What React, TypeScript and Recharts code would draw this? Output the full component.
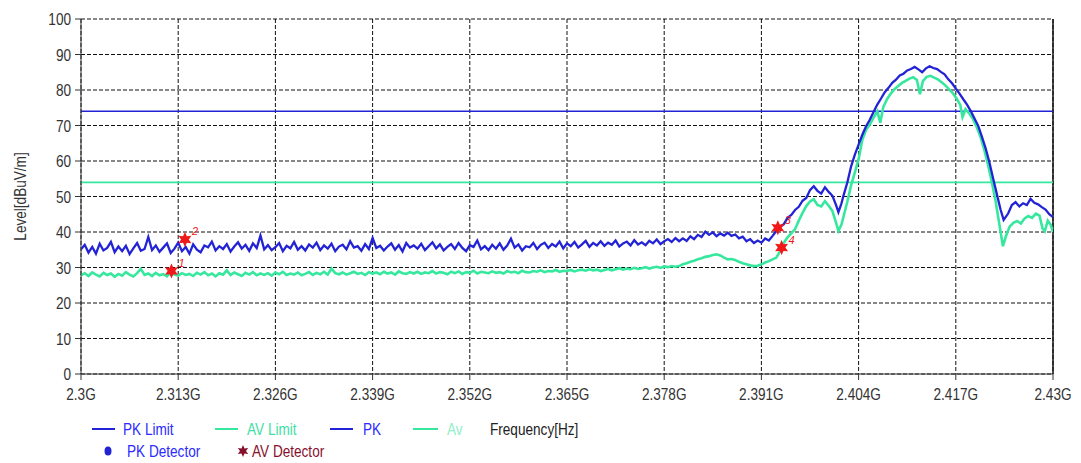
import React from 'react';
import {
  ComposedChart, Line, Scatter, XAxis, YAxis, CartesianGrid, ReferenceLine,
} from 'recharts';

// ---- Data ----
const X_TICKS = [2.3, 2.313, 2.326, 2.339, 2.352, 2.365, 2.378, 2.391, 2.404, 2.417, 2.43];
const Y_TICKS = [0, 10, 20, 30, 40, 50, 60, 70, 80, 90, 100];

const PK_LIMIT = 74;
const AV_LIMIT = 54;

// flat, noisy part sampled from 2.3000 GHz every 0.0005 GHz
const NOISE_START = 2.3;
const NOISE_STEP = 0.0005;

const PK_NOISE = [
  35.1, 36.4, 34.2, 35.8, 33.9, 36.7, 34.8, 35.5, 37.2, 34.3,
  35.9, 34.6, 36.1, 33.8, 35.4, 36.9, 34.7, 35.2, 38.6, 34.9,
  36.2, 34.4, 35.6, 36.8, 34.1, 35.3, 37.0, 34.6, 35.8, 33.9,
  36.5, 35.0, 34.3, 36.2, 35.7, 37.3, 34.8, 36.0, 35.2, 36.6,
  34.5, 35.9, 37.1, 35.3, 36.4, 34.7, 36.8, 35.5, 39.0, 35.1,
  36.3, 34.9, 35.7, 36.9, 34.6, 36.1, 35.4, 37.2, 35.0, 36.0,
  34.8, 36.5, 35.6, 37.0, 34.9, 36.2, 35.3, 36.7, 34.6, 35.9,
  36.4, 35.1, 37.4, 35.6, 36.0, 34.7, 36.6, 35.2, 38.3, 35.5,
  36.1, 34.8, 35.9, 36.8, 35.0, 36.3, 34.5, 36.9, 35.6, 36.2,
  35.3, 36.7, 34.9, 36.0, 37.1, 35.4, 36.5, 34.8, 35.8, 36.6,
  35.2, 36.9, 35.5, 34.6, 36.3, 35.8, 37.6, 35.1, 36.0, 34.9,
  36.4, 35.3, 36.8, 35.0, 36.2, 38.1, 35.6, 36.5, 34.8, 36.0,
  35.7, 36.9, 35.2, 36.4, 37.0, 35.5, 36.6, 35.9, 37.3, 35.4,
  36.8, 36.0, 37.2, 35.6, 36.5, 37.5, 35.8, 36.9, 36.2, 37.4,
  36.1, 37.0, 36.4, 37.6, 35.9, 36.8, 37.3, 36.2, 37.7, 36.5,
  37.1, 36.3, 37.5, 36.8, 37.9, 36.6, 37.4, 38.0, 37.2, 38.3,
];

const AV_NOISE = [
  27.8, 28.4, 27.6, 28.6, 28.0, 27.5, 28.5, 27.9, 28.3, 27.4,
  28.2, 27.7, 28.7, 28.0, 27.5, 28.4, 29.6, 27.9, 28.3, 27.6,
  28.5, 27.8, 28.1, 27.5, 28.6, 28.0, 27.7, 28.4, 27.9, 28.2,
  27.6, 28.5, 28.0, 28.7, 27.8, 28.3, 27.5, 28.4, 28.0, 29.2,
  27.9, 28.6, 28.1, 27.6, 28.5, 28.0, 28.7, 27.8, 28.3, 27.9,
  28.4, 27.7, 28.6, 28.1, 28.8, 27.9, 28.3, 28.0, 28.6, 27.8,
  28.2, 28.7, 27.9, 28.5, 28.1, 28.8, 28.0, 29.7, 28.4, 28.1,
  28.6, 28.0, 28.4, 28.8, 28.2, 28.5, 27.9, 28.7, 28.3, 28.6,
  28.1, 28.8, 28.3, 28.6, 28.0, 28.9, 28.4, 28.2, 28.7, 28.3,
  28.8, 28.2, 28.6, 28.4, 29.0, 28.3, 28.7, 28.5, 28.1, 28.8,
  28.4, 28.9, 28.2, 28.7, 28.5, 29.1, 28.3, 28.8, 28.6, 28.4,
  28.9, 28.5, 28.7, 28.3, 29.0, 28.6, 28.8, 28.4, 29.1, 28.7,
  28.6, 29.0, 28.8, 29.2, 28.7, 29.0, 28.9, 29.3, 28.8, 29.1,
  29.0, 29.3, 28.9, 29.2, 29.4, 29.1, 29.5, 29.2, 29.4, 29.0,
  29.3, 29.6, 29.2, 29.5, 29.8, 29.4, 29.7, 29.5, 29.9, 29.6,
  29.8, 30.1, 29.7, 30.0, 30.2, 29.9, 30.3, 30.1, 30.4, 30.2,
];

// [frequency GHz, level dBuV/m] for the rising / emission part
const PK_EMISSION: [number, number][] = [
  [2.38, 37.4], [2.3805, 38.2], [2.381, 37.5], [2.3815, 38.8], [2.382, 38.0],
  [2.3825, 39.2], [2.383, 38.6], [2.3835, 40.1], [2.384, 39.2], [2.3845, 39.9],
  [2.385, 38.8], [2.3855, 39.6], [2.386, 39.0], [2.3865, 39.8], [2.387, 38.9],
  [2.3875, 39.3], [2.388, 38.2], [2.3885, 38.7], [2.389, 37.4], [2.3895, 38.0],
  [2.39, 36.9], [2.3905, 37.6], [2.391, 37.0], [2.3915, 38.2], [2.392, 37.6],
  [2.3925, 38.9], [2.393, 40.3], [2.3935, 41.5], [2.394, 42.2], [2.3945, 44.0],
  [2.395, 44.8], [2.3955, 46.2], [2.396, 47.1], [2.3965, 48.8], [2.397, 49.6],
  [2.3975, 51.8], [2.398, 52.9], [2.3985, 51.6], [2.399, 50.8], [2.3995, 52.6],
  [2.4, 51.3], [2.4005, 50.2], [2.401, 47.5], [2.4013, 45.6], [2.4017, 48.0],
  [2.402, 50.4], [2.4025, 54.0], [2.403, 58.5], [2.4035, 61.8], [2.404, 64.6],
  [2.4045, 67.4], [2.405, 69.8], [2.4055, 71.6], [2.406, 73.8], [2.4065, 75.9],
  [2.407, 77.6], [2.4075, 79.4], [2.408, 80.6], [2.4085, 82.0], [2.409, 82.9],
  [2.4095, 84.1], [2.41, 84.6], [2.4105, 85.5], [2.411, 85.9], [2.4115, 86.5],
  [2.412, 85.8], [2.4125, 85.0], [2.413, 86.1], [2.4135, 86.7], [2.414, 86.2],
  [2.4145, 85.9], [2.415, 85.1], [2.4155, 84.4], [2.416, 83.0], [2.4165, 81.9],
  [2.417, 80.4], [2.4175, 79.0], [2.418, 77.4], [2.4185, 75.9], [2.419, 74.1],
  [2.4195, 72.0], [2.42, 69.9], [2.4205, 66.8], [2.421, 63.5], [2.4215, 59.6],
  [2.422, 55.0], [2.4225, 50.6], [2.423, 46.2], [2.4234, 43.4], [2.424, 45.2],
  [2.4245, 47.6], [2.425, 48.4], [2.4255, 47.2], [2.426, 48.1], [2.4265, 47.6],
  [2.427, 49.3], [2.4275, 48.2], [2.428, 47.8], [2.4285, 47.0], [2.429, 46.3],
  [2.4295, 45.0], [2.43, 44.2],
];

const AV_EMISSION: [number, number][] = [
  [2.38, 30.4], [2.3805, 30.9], [2.381, 31.2], [2.3815, 31.6], [2.382, 31.9],
  [2.3825, 32.3], [2.383, 32.6], [2.3835, 33.0], [2.384, 33.2], [2.3845, 33.5],
  [2.385, 33.7], [2.3855, 33.4], [2.386, 32.8], [2.3865, 32.3], [2.387, 32.4],
  [2.3875, 32.1], [2.388, 31.6], [2.3885, 31.2], [2.389, 30.9], [2.3895, 30.6],
  [2.39, 30.4], [2.3905, 30.5], [2.391, 30.9], [2.3915, 31.4], [2.392, 31.8],
  [2.3925, 32.3], [2.393, 32.8], [2.3935, 34.6], [2.394, 37.0], [2.3945, 38.5],
  [2.395, 39.6], [2.3955, 40.8], [2.396, 43.2], [2.3965, 45.4], [2.397, 47.3],
  [2.3975, 48.6], [2.398, 49.2], [2.3985, 47.6], [2.399, 47.2], [2.3995, 48.7],
  [2.4, 47.4], [2.4005, 45.9], [2.401, 42.5], [2.4013, 40.3], [2.4017, 42.0],
  [2.402, 44.5], [2.4025, 48.6], [2.403, 53.2], [2.4035, 56.8], [2.404, 60.5],
  [2.4045, 66.0], [2.405, 68.8], [2.4055, 70.3], [2.406, 72.2], [2.4065, 74.0],
  [2.4069, 70.8], [2.4073, 75.2], [2.4078, 77.4], [2.4083, 79.0], [2.4088, 80.2],
  [2.4093, 81.1], [2.4098, 82.0], [2.4103, 82.6], [2.4108, 83.2], [2.4113, 83.6],
  [2.4118, 82.8], [2.4122, 78.8], [2.4126, 82.5], [2.4131, 83.7], [2.4136, 84.0],
  [2.4141, 83.5], [2.4146, 83.0], [2.4151, 82.2], [2.4156, 81.3], [2.4161, 80.2],
  [2.4166, 79.1], [2.4171, 77.6], [2.4176, 75.8], [2.4179, 72.4], [2.4183, 74.6],
  [2.4188, 73.4], [2.4193, 71.8], [2.4198, 69.6], [2.4203, 66.8], [2.4208, 63.2],
  [2.4213, 59.0], [2.4218, 54.2], [2.4223, 49.0], [2.4228, 42.5], [2.4233, 36.0],
  [2.4237, 38.8], [2.4242, 41.5], [2.4247, 42.6], [2.4252, 43.1], [2.4257, 42.4],
  [2.4262, 43.8], [2.4267, 44.5], [2.4272, 44.0], [2.4277, 45.2], [2.4282, 44.6],
  [2.4286, 41.0], [2.4289, 40.2], [2.4293, 43.2], [2.4297, 42.0], [2.43, 40.0],
];

const MARKER_FREQ = [2.3121, 2.3139, 2.3932, 2.3937];
const MARKER_LEVEL = [29.0, 37.9, 41.2, 35.6];
const MARKER_LABEL = ['1', '2', '3', '4'];

// ---- build series ----
const noiseSeries = (vals: number[]) =>
  vals.map((v, i) => ({ f: +(NOISE_START + i * NOISE_STEP).toFixed(4), v }));
const pairSeries = (pairs: [number, number][]) => pairs.map(([f, v]) => ({ f, v }));

const pkData = [...noiseSeries(PK_NOISE), ...pairSeries(PK_EMISSION)];
const avData = [...noiseSeries(AV_NOISE), ...pairSeries(AV_EMISSION)];
const markerData = MARKER_FREQ.map((f, i) => ({ f, v: MARKER_LEVEL[i], label: MARKER_LABEL[i] }));

const FONT = "'Liberation Sans', Arial, sans-serif";
const SX = 0.8; // horizontally condensed lettering
const BLUE = '#2323d6';
const GREEN = '#36e89e';
const RED = '#f01818';
const DARKRED = '#86102c';

const starPoints = (cx: number, cy: number, ro: number, ri: number, n: number) => {
  const pts: string[] = [];
  for (let k = 0; k < n * 2; k++) {
    const r = k % 2 === 0 ? ro : ri;
    const a = (Math.PI * k) / n - Math.PI / 2;
    pts.push(`${cx + r * Math.cos(a)},${cy + r * Math.sin(a)}`);
  }
  return pts.join(' ');
};

const NText = (p: { x: number; y: number; fill: string; size?: number; anchor?: string; children: any }) => (
  <text
    transform={`translate(${p.x} ${p.y}) scale(${SX} 1)`}
    fill={p.fill}
    fontSize={p.size || 17}
    fontFamily={FONT}
    textAnchor={p.anchor || 'start'}
    dominantBaseline="central"
  >
    {p.children}
  </text>
);

const XTick = (props: any) => {
  const { x, y, payload } = props;
  return (
    <NText x={x} y={y + 12} fill="#333" anchor="middle">
      {`${payload.value}G`}
    </NText>
  );
};

const YTick = (props: any) => {
  const { x, y, payload } = props;
  return (
    <NText x={x} y={y} fill="#333" anchor="end">
      {payload.value}
    </NText>
  );
};

const MarkerShape = (props: any) => {
  const { cx, cy, payload } = props;
  if (cx == null || cy == null) return null;
  return (
    <g>
      <polygon points={starPoints(cx, cy, 7.5, 3.8, 6)} fill={RED} />
      <text x={cx + 7} y={cy - 4} fontSize={11} fill={RED} fontFamily={FONT} fontStyle="italic">
        {payload.label}
      </text>
    </g>
  );
};

export default function App() {
  return (
    <div style={{ position: 'absolute', left: 0, top: 0, width: 1081, height: 463, background: '#fff' }}>
      <ComposedChart
        width={1081}
        height={463}
        margin={{ top: 19, right: 28, bottom: 59, left: 0 }}
        style={{ fontFamily: FONT }}
      >
        <CartesianGrid stroke="#111" strokeDasharray="4 2" strokeWidth={1} />
        <XAxis
          type="number"
          dataKey="f"
          domain={[2.3, 2.43]}
          ticks={X_TICKS}
          allowDataOverflow
          height={30}
          stroke="#333"
          tickSize={6}
          tickMargin={2}
          tick={<XTick />}
        />
        <YAxis
          type="number"
          dataKey="v"
          domain={[0, 100]}
          ticks={Y_TICKS}
          width={81}
          stroke="#333"
          tickSize={6}
          tickMargin={4}
          tick={<YTick />}
          label={{
            content: (p: any) => {
              const vb = p.viewBox || {};
              const cy = (vb.y || 19) + (vb.height || 355) / 2;
              return (
                <text
                  transform={`translate(20 ${cy}) rotate(-90) scale(${SX} 1)`}
                  textAnchor="middle"
                  dominantBaseline="central"
                  fontSize={17}
                  fill="#333"
                  fontFamily={FONT}
                >
                  Level[dBuV/m]
                </text>
              );
            },
          }}
        />
        <ReferenceLine x={2.43} stroke="#111" strokeWidth={1.5} />
        <ReferenceLine y={PK_LIMIT} stroke={BLUE} strokeWidth={1.5} />
        <ReferenceLine y={AV_LIMIT} stroke={GREEN} strokeWidth={1.8} />
        <Line
          data={avData}
          dataKey="v"
          type="linear"
          stroke={GREEN}
          strokeWidth={2.6}
          dot={false}
          isAnimationActive={false}
        />
        <Line
          data={pkData}
          dataKey="v"
          type="linear"
          stroke={BLUE}
          strokeWidth={2.3}
          dot={false}
          isAnimationActive={false}
        />
        <Scatter data={markerData} dataKey="v" shape={<MarkerShape />} isAnimationActive={false} />
      </ComposedChart>
      <svg
        width={1081}
        height={463}
        style={{ position: 'absolute', left: 0, top: 0, pointerEvents: 'none' }}
      >
        <line x1={92} x2={115} y1={429} y2={429} stroke={BLUE} strokeWidth={2} />
        <NText x={123} y={429} fill="#2a2aff">PK Limit</NText>
        <line x1={215} x2={238} y1={429} y2={429} stroke={GREEN} strokeWidth={2} />
        <NText x={247} y={429} fill="#3ee0a6">AV Limit</NText>
        <line x1={330} x2={353} y1={429} y2={429} stroke={BLUE} strokeWidth={2} />
        <NText x={363} y={429} fill="#2a2aff">PK</NText>
        <line x1={413} x2={438} y1={429} y2={429} stroke={GREEN} strokeWidth={2} />
        <NText x={447} y={429} fill="#8fefc6">Av</NText>
        <NText x={490} y={429} fill="#222">Frequency[Hz]</NText>

        <ellipse cx={108} cy={451} rx={3.5} ry={4.5} fill={BLUE} />
        <NText x={127} y={451} fill="#2a2aff">PK Detector</NText>
        <polygon points={starPoints(243, 451, 6, 3, 6)} fill={DARKRED} />
        <NText x={252} y={451} fill={DARKRED}>AV Detector</NText>
      </svg>
    </div>
  );
}
